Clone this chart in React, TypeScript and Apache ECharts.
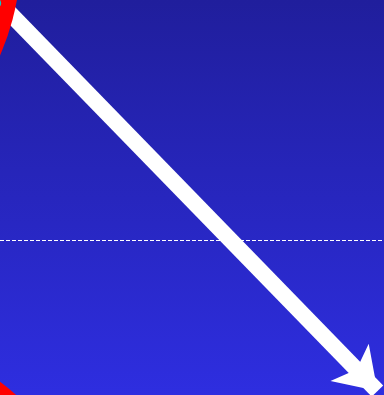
import React, { useEffect, useRef } from 'react';
import * as echarts from 'echarts';

// Data (value space: x 0..100, y 0..100)
const arrowFrom: number[] = [1.4, 97.8];
const arrowTo: number[] = [98.3, 1.0];
const dashedLevel: number[] = [39.2];
const redPoints: number[][] = [
  [-59.9, 111.4],
  [-39.1, -47.6],
];
const cyanPoints: number[][] = [[-1.0, 99.2]];

export default function App() {
  const ref = useRef<HTMLDivElement>(null);
  useEffect(() => {
    if (!ref.current) return;
    const chart = echarts.init(ref.current, undefined, { renderer: 'svg' });
    chart.setOption({
      animation: false,
      backgroundColor: {
        type: 'linear',
        x: 0,
        y: 0,
        x2: 0,
        y2: 1,
        colorStops: [
          { offset: 0, color: '#201e9c' },
          { offset: 1, color: '#2e2ee0' },
        ],
      },
      grid: { left: 0, right: 0, top: 0, bottom: 0 },
      xAxis: { type: 'value', min: 0, max: 100, show: false },
      yAxis: { type: 'value', min: 0, max: 100, show: false },
      series: [
        {
          type: 'scatter',
          clip: false,
          symbol: 'circle',
          symbolSize: 502,
          itemStyle: { color: '#ff0000', opacity: 1 },
          data: redPoints,
          silent: true,
        },
        {
          type: 'scatter',
          clip: false,
          symbol: 'circle',
          symbolSize: 10,
          itemStyle: { color: '#00cccc', opacity: 1 },
          data: cyanPoints,
          silent: true,
          markLine: {
            silent: true,
            symbol: 'none',
            label: { show: false },
            lineStyle: { color: '#ffffff', type: 'dashed', width: 1, opacity: 1 },
            data: dashedLevel.map((v) => ({ yAxis: v })),
          },
        },
        {
          type: 'lines',
          coordinateSystem: 'cartesian2d',
          symbol: ['none', 'arrow'],
          symbolSize: 40,
          lineStyle: { color: '#ffffff', width: 16, opacity: 1, curveness: 0 },
          data: [{ coords: [arrowFrom, arrowTo] }],
          silent: true,
        },
      ],
    });
    return () => chart.dispose();
  }, []);
  return (
    <div
      ref={ref}
      style={{ position: 'fixed', left: 0, top: 0, width: 384, height: 395 }}
    />
  );
}
